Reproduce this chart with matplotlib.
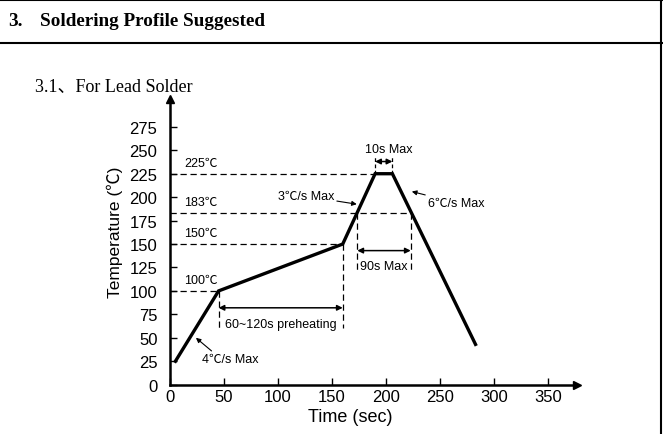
import matplotlib
matplotlib.use("Agg")
import matplotlib.pyplot as plt

# profile corners (time s, temperature C)
prof_t = [5, 45, 160, 190, 206, 283]
prof_T = [25, 100, 150, 225, 225, 43]

x_ticks = [0, 50, 100, 150, 200, 250, 300, 350]
y_ticks = [0, 25, 50, 75, 100, 125, 150, 175, 200, 225, 250, 275]

# reference levels and where their dashed guides end
levels = [225, 183, 150, 100]
level_ends = [190, 223, 160, 45]
level_labels = ["225℃", "183℃", "150℃", "100℃"]

SANS = ["Liberation Sans", "Noto Sans CJK SC", "DejaVu Sans"]
SERIF = ["Liberation Serif", "Noto Sans CJK SC", "DejaVu Sans"]

fig = plt.figure(figsize=(6.63, 4.35), dpi=100)

# page frame + header
fig.add_artist(plt.Line2D([0, 1], [0.998, 0.998], color="black", lw=1.5))
fig.add_artist(plt.Line2D([0, 1], [1 - 43.5 / 435, 1 - 43.5 / 435], color="black", lw=1.5))
fig.add_artist(plt.Line2D([661 / 663, 661 / 663], [0, 1], color="black", lw=1.5))
fig.text(8 / 663, 1 - 22 / 435, "3.", family=SERIF, fontsize=13.8, weight="bold", va="center")
fig.text(40 / 663, 1 - 22 / 435, "Soldering Profile Suggested", family=SERIF,
         fontsize=13.8, weight="bold", va="center")
fig.text(35 / 663, 1 - 87 / 435, "3.1、For Lead Solder", family=SERIF, fontsize=13, va="center")

ax = fig.add_axes([170 / 663, 49.3 / 435, 407 / 663, 286 / 435])
ax.set_xlim(0, 377)
ax.set_ylim(0, 305)
for s in ["top", "right"]:
    ax.spines[s].set_visible(False)
for s in ["left", "bottom"]:
    ax.spines[s].set_linewidth(1.8)
ax.plot(1, 0, ">k", ms=6, transform=ax.transAxes, clip_on=False)
ax.plot(0, 1, "^k", ms=6, transform=ax.transAxes, clip_on=False)

ax.set_xticks(x_ticks)
ax.set_yticks(y_ticks)
ax.tick_params(direction="in", length=5, width=1)
ax.tick_params(axis="y", pad=9)
ax.tick_params(axis="x", pad=3)
for lab in ax.get_xticklabels() + ax.get_yticklabels():
    lab.set_family(SANS)
    lab.set_fontsize(12)
ax.set_xlabel("Time (sec)", family=SANS, fontsize=13)
ax.set_ylabel("Temperature (℃)", family=SANS, fontsize=12.5)
ax.xaxis.set_label_coords(0.442, -0.08)
ax.yaxis.set_label_coords(-0.115, 0.537)

dash = dict(color="black", lw=0.9, ls=(0, (5, 3)))
for lv, end, lab in zip(levels, level_ends, level_labels):
    ax.plot([0, end], [lv, lv], **dash)
    ax.text(13, lv + 5, lab, family=SANS, fontsize=9, va="bottom")

# vertical guides
ax.plot([45, 45], [100, 60], **dash)
ax.plot([160, 160], [150, 60], **dash)
ax.plot([173.5, 173.5], [183, 120], **dash)
ax.plot([223, 223], [183, 120], **dash)
ax.plot([190, 190], [225, 243], color="black", lw=0.9, ls=(0, (3, 2)))
ax.plot([206, 206], [225, 243], color="black", lw=0.9, ls=(0, (3, 2)))

ax.plot(prof_t, prof_T, color="black", lw=2.4, solid_joinstyle="miter")

arr = dict(arrowstyle="<|-|>", color="black", lw=1.1, mutation_scale=8, shrinkA=0, shrinkB=0)
ax.annotate("", xy=(45, 82), xytext=(160, 82), arrowprops=arr)
ax.annotate("", xy=(173.5, 143), xytext=(223, 143), arrowprops=arr)
ax.annotate("", xy=(190, 238), xytext=(206, 238), arrowprops=arr)

ax.text(103, 65, "60~120s preheating", family=SANS, fontsize=9, ha="center", va="center")
ax.text(198, 127, "90s Max", family=SANS, fontsize=9, ha="center", va="center")
ax.text(203, 251, "10s Max", family=SANS, fontsize=9, ha="center", va="center")

pt = dict(arrowstyle="-|>", color="black", lw=0.8, mutation_scale=7, shrinkA=0, shrinkB=0)
ax.annotate("3℃/s Max", xy=(173, 192.5), xytext=(152, 201), family=SANS, fontsize=9,
            ha="right", va="center", arrowprops=pt)
ax.annotate("6℃/s Max", xy=(224, 206), xytext=(239, 194), family=SANS, fontsize=9,
            ha="left", va="center", arrowprops=pt)
ax.annotate("", xy=(24, 50), xytext=(38.5, 36), arrowprops=pt)
ax.text(30, 27.5, "4℃/s Max", family=SANS, fontsize=9, ha="left", va="center")

fig.savefig("out.png", dpi=100)
